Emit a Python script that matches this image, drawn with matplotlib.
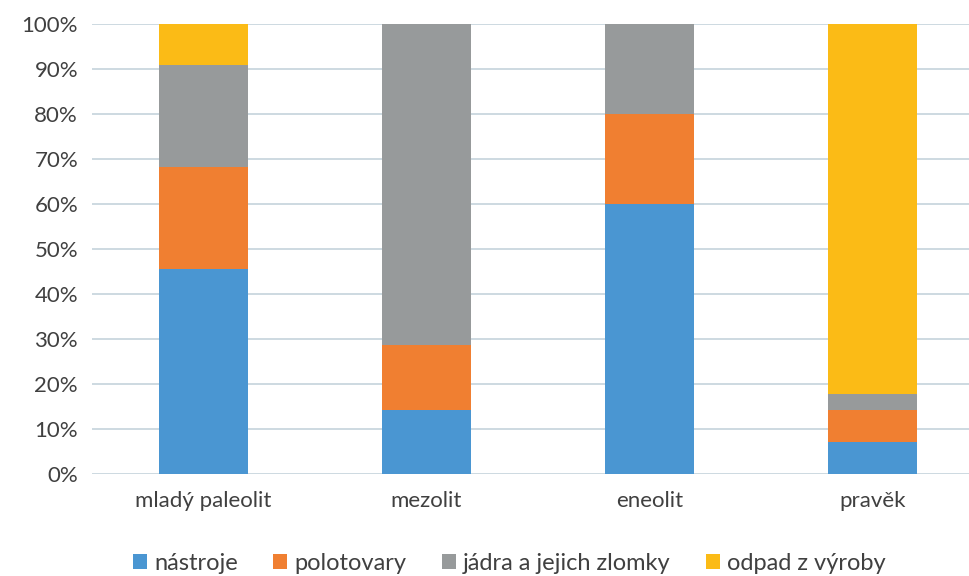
import matplotlib
matplotlib.use("Agg")
import matplotlib.pyplot as plt
import numpy as np

plt.rcParams['font.family'] = ['Lato', 'DejaVu Sans']

categories = ["mladý paleolit", "mezolit", "eneolit", "pravěk"]
series = ["nástroje", "polotovary", "jádra a jejich zlomky", "odpad z výroby"]
nastroje = [45.45, 14.29, 60.0, 7.14]
polotovary = [22.73, 14.29, 20.0, 7.14]
jadra = [22.73, 71.42, 20.0, 3.57]
odpad = [9.09, 0.0, 0.0, 82.15]
colors = ["#4a96d2", "#f07f31", "#979a9b", "#fbbb16"]

fig = plt.figure(figsize=(9.7, 5.76), dpi=100)
ax = fig.add_axes([92/970, 1-474/576, 878/970, 450/576])

x = np.arange(len(categories))
bottom = np.zeros(len(categories))
for name, vals, c in zip(series, [nastroje, polotovary, jadra, odpad], colors):
    ax.bar(x, vals, width=0.4, bottom=bottom, color=c, label=name, zorder=3)
    bottom += np.array(vals)

ax.set_ylim(0, 100)
ax.set_xlim(-0.5, 3.437)
ax.set_yticks(np.arange(0, 101, 10))
ax.set_yticklabels([f"{v}%" for v in range(0, 101, 10)])
ax.set_xticks(x)
ax.set_xticklabels(categories)
ax.tick_params(length=0, labelsize=16, colors="#404040", pad=10)
ax.tick_params(axis='x', pad=12)
ax.grid(axis='y', color="#c5d3dc", linewidth=1.2, zorder=0)
for s in ax.spines.values():
    s.set_visible(False)

h, l = ax.get_legend_handles_labels()
fig.legend(h, l, loc='center', bbox_to_anchor=(0.525, 1-563/576), ncol=4,
           frameon=False, fontsize=17, labelcolor="#404040",
           handlelength=0.6, handleheight=0.6, handletextpad=0.3, columnspacing=1.5)

fig.savefig("out.png", dpi=100)
